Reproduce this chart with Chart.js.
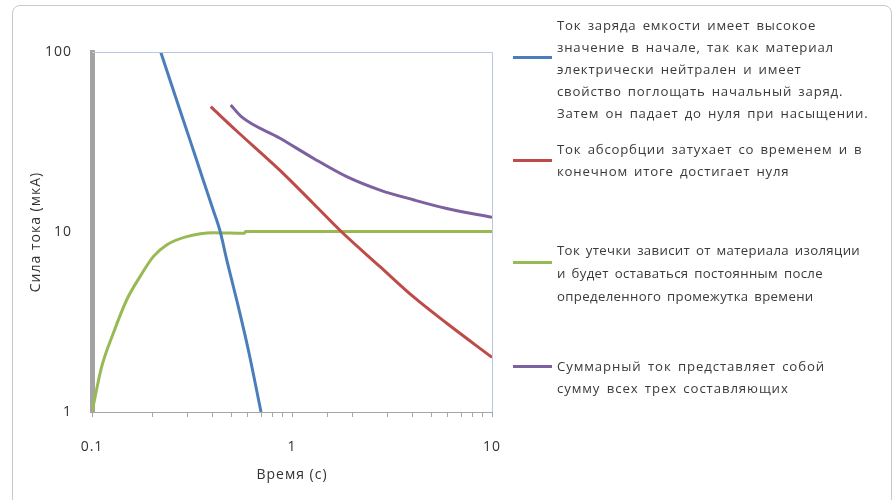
<!DOCTYPE html>
<html>
<head>
<meta charset="utf-8">
<script src="https://cdn.jsdelivr.net/npm/chart.js@4"></script>
<style>
  html, body { margin: 0; padding: 0; background: #fff; }
  body { width: 893px; height: 500px; position: relative; overflow: hidden; font-family: "Open Sans", sans-serif; }
  #card { position: absolute; left: 12px; top: 5px; width: 878px; height: 520px; border: 1px solid #c9c9c9; border-radius: 8px; }
  #wrap { position: absolute; left: 0; top: 0; width: 893px; height: 500px; }
  .leg { position: absolute; left: 557px; width: 336px; font-size: 13.2px; line-height: 22px; color: #3a3a3a; letter-spacing: 0.7px; word-spacing: 2px; white-space: nowrap; }
  .swatch { position: absolute; left: 513px; width: 39px; height: 3px; }
</style>
</head>
<body>
<div id="card"></div>
<div id="wrap"><canvas id="chart" width="893" height="500"></canvas></div>
<div id="legend"></div>
<script>
// time, s  /  current, uA
const tCharge = [0.2206, 0.2549, 0.309, 0.36, 0.404, 0.437, 0.4717, 0.529, 0.605, 0.70];
const iCharge = [100, 61.5, 32.4, 19.4, 13.2, 10.1, 7.0, 4.19, 2.21, 1.0];

const tAbsorb = [0.3923, 0.529, 0.871, 1.278, 1.773, 2.754, 4.04, 5.94, 10];
const iAbsorb = [49.7, 36.4, 22.0, 14.4, 10.0, 6.42, 4.37, 3.11, 2.01];

const tLeak = [0.1, 0.1118, 0.1278, 0.149, 0.1738, 0.2025, 0.236, 0.2975, 0.404, 0.58, 0.585, 10];
const iLeak = [1.0, 1.785, 2.74, 4.19, 5.65, 7.3, 8.47, 9.42, 9.91, 9.85, 10.05, 10.05];

const tTotal = [0.494, 0.56, 0.871, 1.278, 1.877, 2.754, 4.04, 5.94, 10];
const iTotal = [50.8, 43.6, 33.2, 25.7, 20.3, 17.1, 15.1, 13.5, 12.07];

const xTickLabels = ["0.1", "1", "10"];
const yTickLabels = ["1", "10", "100"];

const series = [
  { t: tCharge, i: iCharge, color: "#4a7ebb", top: 14, gap: 22, swatch: 57, ls: 0.8,
    text: ["Ток заряда емкости имеет высокое", "значение в начале, так как материал", "электрически нейтрален и имеет", "свойство поглощать начальный заряд.", "Затем он падает до нуля при насыщении."] },
  { t: tAbsorb, i: iAbsorb, color: "#be4b48", top: 138, gap: 22, swatch: 160, ls: 0.8,
    text: ["Ток абсорбции затухает со временем и в", "конечном итоге достигает нуля"] },
  { t: tLeak, i: iLeak, color: "#98b954", top: 239, gap: 23, swatch: 262, ls: 0.35,
    text: ["Ток утечки зависит от материала изоляции", "и будет оставаться постоянным после", "определенного промежутка времени"] },
  { t: tTotal, i: iTotal, color: "#7d60a0", top: 355, gap: 22, swatch: 366, ls: 0.9,
    text: ["Суммарный ток представляет собой", "сумму всех трех составляющих"] },
];

const legend = document.getElementById("legend");
legend.innerHTML = series.map((s) =>
  `<div class="swatch" style="top:${s.swatch - 1}px;background:${s.color}"></div>` +
  `<div class="leg" style="top:${s.top}px;line-height:${s.gap}px;letter-spacing:${s.ls}px">${s.text.join("<br>")}</div>`
).join("");

const plotFrame = {
  id: "plotFrame",
  beforeDraw(chart) {
    chart.ctx.letterSpacing = "1px";
  },
  afterDatasetsDraw(chart) {
    const { ctx, chartArea: a } = chart;
    ctx.save();
    ctx.strokeStyle = "#b7c6e2";
    ctx.lineWidth = 1;
    ctx.beginPath();
    ctx.moveTo(a.left, a.top + 0.5);
    ctx.lineTo(a.right + 0.5, a.top + 0.5);
    ctx.lineTo(a.right + 0.5, a.bottom);
    ctx.stroke();
    ctx.restore();
  },
};

const decade = (v, labels) => {
  const s = String(Number(v.toPrecision(3)));
  return labels.includes(s) ? s : "";
};

new Chart(document.getElementById("chart"), {
  type: "line",
  data: {
    datasets: series.map((s) => ({
      data: s.t.map((t, k) => ({ x: t, y: s.i[k] })),
      borderColor: s.color,
      borderWidth: 3,
      pointRadius: 0,
      cubicInterpolationMode: "monotone",
      fill: false,
    })),
  },
  options: {
    responsive: false,
    animation: false,
    layout: { padding: { left: 0, right: 401, top: 52, bottom: 0 } },
    plugins: { legend: { display: false }, tooltip: { enabled: false } },
    scales: {
      x: {
        type: "logarithmic",
        min: 0.1,
        max: 10,
        afterFit: (s) => { s.height = 88; },
        border: { color: "#a6a6a6", width: 1 },
        grid: { drawOnChartArea: false, drawTicks: true, tickLength: 5, color: "#a6a6a6" },
        ticks: {
          autoSkip: false, maxRotation: 0, padding: 22, color: "#333",
          font: { family: "Open Sans", size: 14 },
          callback: (v) => decade(v, xTickLabels),
        },
        title: { display: true, text: "Время (с)", color: "#333", font: { family: "Open Sans", size: 14 }, padding: { top: 17, bottom: 17 } },
      },
      y: {
        type: "logarithmic",
        min: 1,
        max: 100,
        afterFit: (s) => { s.width = 92; },
        border: { color: "#a3a3a3", width: 5 },
        grid: { display: false, drawTicks: false },
        ticks: {
          autoSkip: false, padding: 20, color: "#333",
          font: { family: "Open Sans", size: 14 },
          callback: (v) => decade(v, yTickLabels),
        },
        title: { display: true, text: "Сила тока (мкА)", color: "#333", font: { family: "Open Sans", size: 14 }, padding: { top: 28, bottom: 28 } },
      },
    },
  },
  plugins: [plotFrame],
});
</script>
</body>
</html>
